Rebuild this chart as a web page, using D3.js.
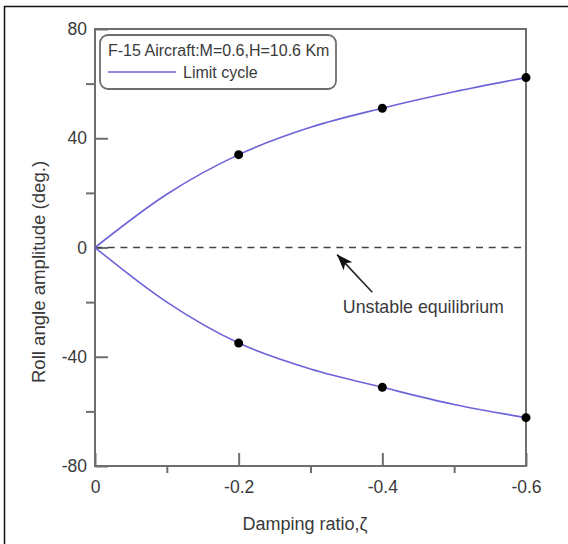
<!DOCTYPE html>
<html>
<head>
<meta charset="utf-8">
<script src="https://cdn.jsdelivr.net/npm/d3@7"></script>
<style>
  html, body { margin: 0; padding: 0; background: #fff; }
  svg { display: block; font-family: "Liberation Sans", Arial, sans-serif; }
</style>
</head>
<body>
<svg id="chart" width="568" height="544"></svg>
<script>
// Damping ratio values (x) and limit-cycle roll amplitudes (deg.)
const dampingRatio = [0, -0.1, -0.2, -0.3, -0.4, -0.5, -0.6];
const upperAmplitude = [0, 19.5, 34, 44, 51, 57, 62.2];
const lowerAmplitude = [0, -20, -35, -44.5, -51.2, -57.5, -62.3];

// Computed sample points shown as markers
const markerRatio = [-0.2, -0.4, -0.6];
const markerUpper = [34, 51, 62.2];
const markerLower = [-35, -51.2, -62.3];

// Axis ticks
const xMajorTicks = [0, -0.2, -0.4, -0.6];
const xMinorTicks = [-0.1, -0.3, -0.5];
const yMajorTicks = [-80, -40, 0, 40, 80];
const yMinorTicks = [-60, -20, 20, 60];

// Annotation for the unstable equilibrium (data units)
const arrowTail = [-0.386, -16.4];
const arrowTip = [-0.337, -2.6];
const noteAt = [-0.345, -24.1];
const noteText = "Unstable equilibrium";

const legendTitle = "F-15 Aircraft:M=0.6,H=10.6 Km";
const legendSeries = "Limit cycle";

const svg = d3.select("#chart");
const plotLeft = 95, plotRight = 526, plotTop = 29, plotBottom = 466;
const axisColor = "#6e6e6e";
const textColor = "#3a3a3a";
const lineColor = "#6d63d9";

const x = d3.scaleLinear().domain([0, -0.6]).range([plotLeft, plotRight]);
const y = d3.scaleLinear().domain([-80, 80]).range([plotBottom, plotTop]);

// outer frame
svg.append("rect")
  .attr("x", 4.5).attr("y", 6.5)
  .attr("width", 700).attr("height", 700)
  .attr("fill", "none").attr("stroke", "#111").attr("stroke-width", 1.5);

// plot frame
svg.append("rect")
  .attr("x", plotLeft).attr("y", plotTop)
  .attr("width", plotRight - plotLeft).attr("height", plotBottom - plotTop)
  .attr("fill", "none").attr("stroke", axisColor).attr("stroke-width", 2);

function styleAxis(g) {
  g.select(".domain").remove();
  g.selectAll(".tick line").attr("stroke", axisColor).attr("stroke-width", 2);
  g.selectAll(".tick text")
    .attr("fill", textColor)
    .style("font-size", "17.5px")
    .style("font-family", "'Liberation Sans', Arial, sans-serif");
}

// x axis: major ticks point inward, minor ticks outward
svg.append("g")
  .attr("transform", `translate(0,${plotBottom})`)
  .call(d3.axisBottom(x).tickValues(xMajorTicks).tickSize(-13).tickPadding(15)
    .tickFormat(d => d === 0 ? "0" : d3.format(".1f")(d).replace("−", "-")))
  .call(styleAxis);
svg.append("g")
  .attr("transform", `translate(0,${plotBottom})`)
  .call(d3.axisBottom(x).tickValues(xMinorTicks).tickSize(7).tickFormat(""))
  .call(styleAxis);

// y axis
svg.append("g")
  .attr("transform", `translate(${plotLeft},0)`)
  .call(d3.axisLeft(y).tickValues(yMajorTicks).tickSize(-13).tickPadding(8)
    .tickFormat(d => String(d)))
  .call(styleAxis);
svg.append("g")
  .attr("transform", `translate(${plotLeft},0)`)
  .call(d3.axisLeft(y).tickValues(yMinorTicks).tickSize(9).tickFormat(""))
  .call(styleAxis);

// axis titles
svg.append("text")
  .attr("x", 305).attr("y", 530)
  .attr("text-anchor", "middle")
  .attr("fill", textColor)
  .style("font-size", "18px")
  .text("Damping ratio,ζ");

svg.append("text")
  .attr("transform", "translate(45,272) rotate(-90)")
  .attr("text-anchor", "middle")
  .attr("fill", textColor)
  .style("font-size", "18.6px")
  .text("Roll angle amplitude (deg.)");

// unstable equilibrium (dashed zero line)
svg.append("line")
  .attr("x1", x(0)).attr("x2", x(-0.6) - 4)
  .attr("y1", y(0)).attr("y2", y(0))
  .attr("stroke", "#444").attr("stroke-width", 1.5)
  .attr("stroke-dasharray", "7,5.7");

// limit-cycle branches
const line = d3.line()
  .x(d => x(d[0])).y(d => y(d[1]))
  .curve(d3.curveMonotoneX);

[upperAmplitude, lowerAmplitude].forEach(vals => {
  svg.append("path")
    .datum(dampingRatio.map((r, i) => [r, vals[i]]))
    .attr("d", line)
    .attr("fill", "none")
    .attr("stroke", lineColor)
    .attr("stroke-width", 1.6);
});

// sample markers
const pts = markerRatio.map((r, i) => [r, markerUpper[i]])
  .concat(markerRatio.map((r, i) => [r, markerLower[i]]));
svg.selectAll("circle.pt")
  .data(pts).enter().append("circle")
  .attr("class", "pt")
  .attr("cx", d => x(d[0])).attr("cy", d => y(d[1]))
  .attr("r", 4.5).attr("fill", "#000");

// annotation arrow
const defs = svg.append("defs");
defs.append("marker")
  .attr("id", "head")
  .attr("viewBox", "0 0 16 12")
  .attr("refX", 16).attr("refY", 6)
  .attr("markerWidth", 16).attr("markerHeight", 12)
  .attr("markerUnits", "userSpaceOnUse")
  .attr("orient", "auto")
  .append("path")
  .attr("d", "M0,0 L16,6 L0,12 L4,6 Z")
  .attr("fill", "#111");

svg.append("line")
  .attr("x1", x(arrowTail[0])).attr("y1", y(arrowTail[1]))
  .attr("x2", x(arrowTip[0])).attr("y2", y(arrowTip[1]))
  .attr("stroke", "#222").attr("stroke-width", 1.6)
  .attr("marker-end", "url(#head)");

svg.append("text")
  .attr("x", x(noteAt[0])).attr("y", y(noteAt[1]))
  .attr("fill", textColor)
  .style("font-size", "17.8px")
  .text(noteText);

// legend
const lg = svg.append("g");
lg.append("rect")
  .attr("x", 100).attr("y", 35)
  .attr("width", 236).attr("height", 54)
  .attr("rx", 8).attr("ry", 8)
  .attr("fill", "#fff").attr("stroke", axisColor).attr("stroke-width", 1.8);
lg.append("text")
  .attr("x", 108).attr("y", 56)
  .attr("fill", textColor)
  .style("font-size", "16px")
  .text(legendTitle);
lg.append("line")
  .attr("x1", 108).attr("x2", 176)
  .attr("y1", 72).attr("y2", 72)
  .attr("stroke", lineColor).attr("stroke-width", 1.6);
lg.append("text")
  .attr("x", 183).attr("y", 77.5)
  .attr("fill", textColor)
  .style("font-size", "16px")
  .text(legendSeries);
</script>
</body>
</html>
